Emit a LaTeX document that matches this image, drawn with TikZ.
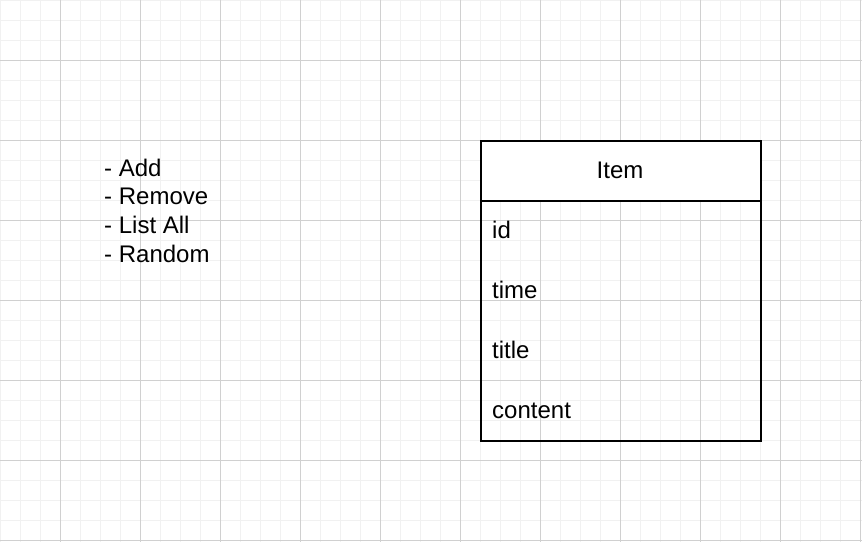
\documentclass[tikz,border=0pt]{standalone}
\usepackage{fontspec}
\setmainfont{Liberation Sans}
\definecolor{minorgrid}{HTML}{F1F1F1}
\definecolor{majorgrid}{HTML}{D0D0D0}
\begin{document}
\begin{tikzpicture}[x=1pt,y=-1pt,
  txt/.style={inner sep=0pt,anchor=base west,font=\fontsize{24}{28.8}\selectfont},
  box/.style={draw=black,line width=1.4pt}]
\useasboundingbox (0,0) rectangle (862,542);
\fill[white] (0,0) rectangle (862,542);
% minor grid
\foreach \i in {0,20,...,860} \draw[minorgrid,line width=1pt] (\i+0.5,0) -- (\i+0.5,542);
\foreach \j in {0,20,...,540} \draw[minorgrid,line width=1pt] (0,\j+0.5) -- (862,\j+0.5);
% major grid
\foreach \i in {60,140,...,860} \draw[majorgrid,line width=1pt] (\i+0.5,0) -- (\i+0.5,542);
\foreach \j in {60,140,...,540} \draw[majorgrid,line width=1pt] (0,\j+0.5) -- (862,\j+0.5);
% list text
\node[txt] (l1) at (104,176) {- Add};
\node[txt] (l2) at (104,204.8) {- Remove};
\node[txt] (l3) at (104,233.6) {- List All};
\node[txt] (l4) at (104,262.4) {- Random};
% Item entity
\path[box,fill=white] (481,141) rectangle (761,201);
\coordinate (hdr) at (621,171);
\node[box,draw=none,fill=none,inner sep=0pt,anchor=north west,minimum width=280pt,minimum height=240pt] (body) at (481,201) {};
\draw[box] (481,141) rectangle (761,441);
\draw[box] (481,201) -- (761,201);
\node[inner sep=0pt,anchor=base,font=\fontsize{24}{28.8}\selectfont] (title) at (620,178) {Item};
\node[txt] (f1) at (492,238) {id};
\node[txt] (f2) at (492,298) {time};
\node[txt] (f3) at (492,358) {title};
\node[txt] (f4) at (492,418) {content};
\end{tikzpicture}
\end{document}
